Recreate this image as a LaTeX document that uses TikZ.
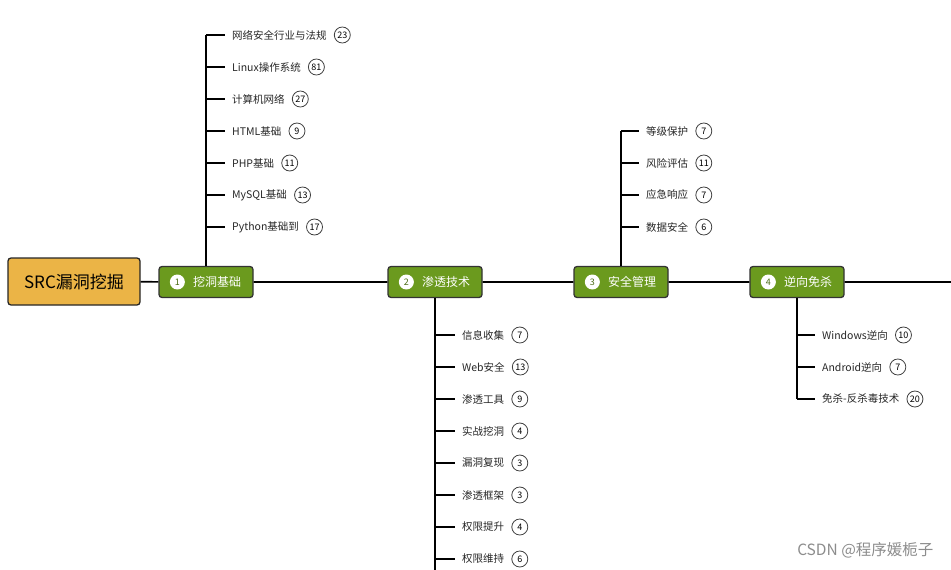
\documentclass[tikz,border=0pt]{standalone}
\usepackage{fontspec}
\setmainfont{Noto Sans CJK SC}
\usetikzlibrary{positioning}
\definecolor{verde}{HTML}{6B9A1E}
\definecolor{laranja}{HTML}{EBB446}
\begin{document}
\begin{tikzpicture}[x=1pt,y=-1pt]
  \tikzstyle{raiz}=[draw=black!85, fill=laranja, rounded corners=3pt, line width=1.3pt, minimum width=132, minimum height=47, font=\fontsize{17}{20}\selectfont]
  \tikzstyle{ramo}=[draw=black!80, fill=verde, rounded corners=3pt, line width=1.3pt, minimum width=94, minimum height=31, text=white, font=\fontsize{12}{14}\selectfont]
  \tikzstyle{num}=[circle, fill=white, inner sep=0pt, minimum size=15, text=verde!70!black, font=\fontsize{9}{9}\selectfont]
  \tikzstyle{folha}=[anchor=west, inner sep=1pt, font=\fontsize{10.5}{12}\selectfont, text=black!85]
  \tikzstyle{bola}=[circle, draw=black!75, line width=0.8pt, inner sep=0pt, minimum size=16, font=\fontsize{9}{9}\selectfont]
  \tikzstyle{linha}=[draw, line width=1.6pt]
  \useasboundingbox (0,0) rectangle (951,570);

  % tronco principal
  \node[raiz] (raiz) at (74,281.5) {SRC漏洞挖掘};
  \node[ramo] (m1) at (206,282) {\hspace{22pt}挖洞基础};
  \node[ramo] (m2) at (435,282) {\hspace{22pt}渗透技术};
  \node[ramo] (m3) at (621,282) {\hspace{22pt}安全管理};
  \node[ramo] (m4) at (797,282) {\hspace{22pt}逆向免杀};
  \foreach \i in {1,...,4} {
    \node[num] at ([xshift=19]m\i.west) {\i};
  }
  \coordinate (fim) at (951,282);
  \draw[linha] (raiz) -- (m1) -- (m2) -- (m3) -- (m4) -- (fim);

  % ramo 1: acima
  \foreach \t/\n [count=\i] in {网络安全行业与法规/23, Linux操作系统/81, 计算机网络/27, HTML基础/9, PHP基础/11, MySQL基础/13, Python基础到/17} {
    \node[folha] (f1-\i) at (231,3+32*\i) {\t};
    \node[bola, right=6pt of f1-\i] {\n};
    \draw[linha, shorten >=6pt] (m1.north |- f1-\i.west) -- (f1-\i.west);
  }
  \draw[linha] (m1.north) -- (m1.north |- f1-1.west);

  % ramo 2: abaixo, sai da figura
  \foreach \t/\n [count=\i] in {信息收集/7, Web安全/13, 渗透工具/9, 实战挖洞/4, 漏洞复现/3, 渗透框架/3, 权限提升/4, 权限维持/6} {
    \node[folha] (f2-\i) at (461,303+32*\i) {\t};
    \node[bola, right=6pt of f2-\i] {\n};
    \draw[linha, shorten >=6pt] (m2.south |- f2-\i.west) -- (f2-\i.west);
  }
  \coordinate (base) at (m2.south |- 0,570);
  \draw[linha] (m2.south) -- (base);

  % ramo 3: acima
  \foreach \t/\n [count=\i] in {等级保护/7, 风险评估/11, 应急响应/7, 数据安全/6} {
    \node[folha] (f3-\i) at (645,99+32*\i) {\t};
    \node[bola, right=6pt of f3-\i] {\n};
    \draw[linha, shorten >=6pt] (m3.north |- f3-\i.west) -- (f3-\i.west);
  }
  \draw[linha] (m3.north) -- (m3.north |- f3-1.west);

  % ramo 4: abaixo
  \foreach \t/\n [count=\i] in {Windows逆向/10, Android逆向/7, 免杀-反杀毒技术/20} {
    \node[folha] (f4-\i) at (821,303+32*\i) {\t};
    \node[bola, right=6pt of f4-\i] {\n};
    \draw[linha, shorten >=6pt] (m4.south |- f4-\i.west) -- (f4-\i.west);
  }
  \draw[linha] (m4.south) -- (m4.south |- f4-3.west);

  % marca
  \node[anchor=east, text=black!45, font=\fontsize{15.5}{17}\selectfont] (marca) at (937,550) {CSDN @程序媛栀子};
\end{tikzpicture}
\end{document}
